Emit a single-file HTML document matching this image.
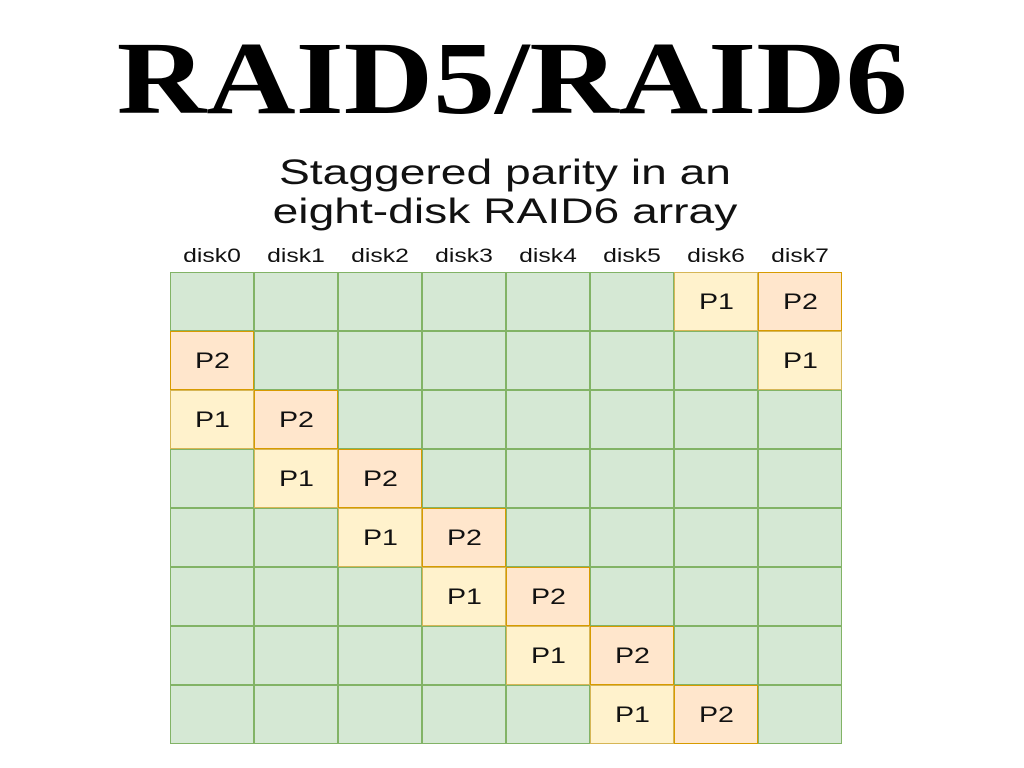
<!DOCTYPE html>
<html><head><style>
body{margin:0;width:1024px;height:768px;background:#fff;position:relative;overflow:hidden;font-family:"Liberation Sans",sans-serif}
.t{position:absolute;left:0;width:1024px;text-align:center;font-family:"Liberation Serif",serif;font-weight:bold;font-size:104px;top:14px;line-height:130px;color:#000;transform:scaleX(1.19);transform-origin:511px 0}
.s{position:absolute;left:0;width:1010px;text-align:center;font-size:35px;line-height:39px;top:153px;color:#111;transform:scaleX(1.32);transform-origin:505px 0}
.h{position:absolute;top:246px;width:84px;text-align:center;font-size:19px;color:#111;transform:scaleX(1.3)}
.c{position:absolute;width:84px;height:59px;box-sizing:border-box;border:1px solid #82b366;background:#d5e8d4;font-size:22px;line-height:57px;text-align:center;color:#111}
.c span{display:inline-block;transform:scaleX(1.3)}
.p1{background:#fff2cc;border-color:#d6b656}
.p2{background:#ffe6cc;border-color:#d79b00}
</style></head><body>
<div class="t">RAID5/RAID6</div>
<div class="s">Staggered parity in an<br>eight-disk RAID6 array</div>
<div id="g"></div>
<script>
var g=document.getElementById('g'),h='';
for(var i=0;i<8;i++)h+='<div class="h" style="left:'+(170+84*i)+'px">disk'+i+'</div>';
var cells=[];
for(var r=0;r<8;r++)for(var c=0;c<8;c++){var k='';
if(r==0){if(c==6)k='p1';if(c==7)k='p2';}
else if(r==1){if(c==0)k='p2';if(c==7)k='p1';}
else{if(c==r-2)k='p1';if(c==r-1)k='p2';}
cells.push([r,c,k]);}
cells.sort(function(a,b){return (a[2]?1:0)-(b[2]?1:0)});
cells.forEach(function(x){h+='<div class="c '+x[2]+'" style="left:'+(170+84*x[1])+'px;top:'+(272+59*x[0])+'px">'+(x[2]?'<span>'+x[2].toUpperCase()+'</span>':'')+'</div>';});
g.innerHTML=h;
</script>
</body></html>
